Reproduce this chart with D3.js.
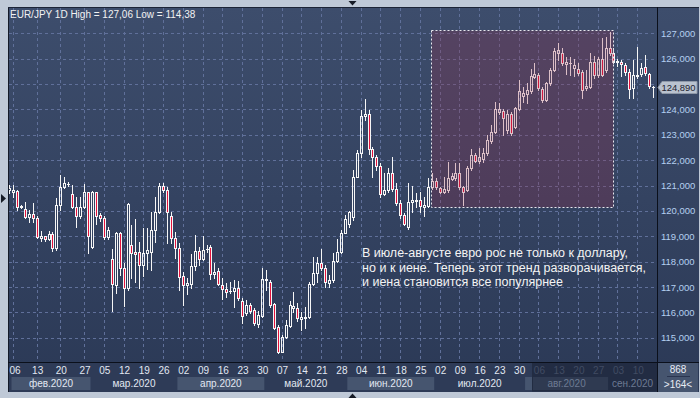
<!DOCTYPE html>
<meta charset="utf-8">
<script src="https://d3js.org/d3.v7.min.js"></script>
<style>
  body { margin: 0; background: #bfc9d7; }
  svg { display: block; font-family: "Liberation Sans", Arial, sans-serif; }
</style>
<svg id="chart" width="700" height="398"></svg>
<script>

// EUR/JPY daily bars, 05.02.2020 - 16.09.2020 (February has short Sunday bars)
var opens = [120.82,120.76,120.77,120.14,120.06,119.75,119.88,119.71,118.92,119.00,118.88,119.09,118.55,120.23,120.93,121.06,120.67,120.14,119.81,120.17,
  120.73,118.59,120.73,119.84,119.71,118.98,118.10,117.08,119.11,117.74,116.95,118.65,118.39,118.39,117.87,118.33,118.39,119.25,119.97,120.98,
  120.82,119.81,118.94,118.52,117.43,117.08,117.12,117.83,118.42,118.09,118.49,118.56,117.51,117.64,117.08,116.91,116.86,116.85,116.96,116.46,
  115.96,116.29,116.09,115.54,115.86,117.30,117.21,116.33,115.41,114.45,115.01,115.46,116.16,116.16,115.72,115.76,115.80,117.10,117.56,117.96,
  117.74,117.14,117.28,118.04,118.39,119.14,119.50,119.75,121.35,122.30,123.74,123.82,122.43,122.14,121.77,120.67,120.82,121.48,120.85,120.30,
  119.84,119.35,120.33,120.38,120.43,120.17,120.19,120.93,121.19,120.90,120.76,120.82,121.25,121.30,121.48,120.95,120.82,121.68,122.20,121.98,
  122.03,122.27,122.77,123.12,123.91,123.95,123.19,123.82,123.32,124.00,124.53,124.61,124.74,125.26,125.36,124.79,124.37,125.03,125.55,126.21,
  126.24,125.79,125.82,125.62,125.58,125.49,124.83,124.90,125.88,125.36,125.97,125.55,126.41,126.21,125.86,125.88,125.75,125.49,124.83,125.30,
  125.40,125.69,125.40,124.90];
var highs = [121.02,121.02,120.82,120.22,120.34,120.03,120.32,119.78,119.21,119.02,119.21,119.18,120.49,121.41,121.32,121.13,121.02,120.56,120.56,121.05,
  120.75,120.78,120.76,119.90,119.80,119.35,118.48,119.18,119.18,117.93,120.32,119.44,119.67,118.79,119.31,119.31,119.97,120.56,121.09,121.11,
  120.95,119.97,119.18,118.72,117.60,117.34,118.29,119.05,118.59,119.01,118.65,118.65,117.93,117.74,117.34,117.14,117.21,117.28,117.24,116.55,
  116.49,116.38,116.16,116.07,117.74,117.67,117.28,116.36,115.50,115.11,115.70,116.46,116.82,116.38,116.03,116.22,117.21,118.17,118.17,118.48,
  117.87,117.47,118.33,118.88,119.25,119.84,119.99,121.61,122.40,123.98,124.40,123.98,122.50,122.20,121.87,121.48,121.68,122.11,121.09,120.43,
  119.93,121.09,121.00,120.70,120.76,120.56,121.28,121.48,121.28,120.96,121.35,121.94,121.50,121.87,121.90,121.00,121.75,122.43,122.30,122.47,
  122.47,122.99,123.39,124.30,124.24,124.00,123.98,123.91,124.08,125.16,124.90,125.03,125.58,125.81,125.45,124.90,125.09,125.62,126.41,126.60,
  126.41,126.08,126.08,125.97,125.81,125.55,125.55,126.21,126.10,126.05,126.80,126.84,127.06,126.41,125.97,125.95,125.84,125.60,125.95,126.47,
  125.81,126.13,125.45,124.92];
var lows = [120.72,120.56,120.03,120.10,119.71,119.57,119.57,118.92,118.83,118.83,118.86,118.43,118.45,120.03,120.89,120.98,120.10,119.38,119.71,120.10,
  118.35,118.55,119.48,119.60,118.90,118.90,116.07,116.75,117.47,116.25,116.88,117.34,117.21,116.97,117.43,117.70,117.67,118.79,119.90,120.76,
  118.75,118.72,118.16,116.88,116.29,116.71,116.97,117.67,117.87,118.06,118.39,117.30,117.34,117.08,116.51,116.62,116.78,116.20,116.49,115.59,
  115.90,115.99,115.50,115.44,115.83,116.88,116.22,115.33,114.38,114.42,114.98,115.44,116.03,115.67,115.30,115.37,115.79,117.08,117.21,117.67,
  116.99,117.01,117.21,118.00,118.33,119.11,119.38,119.64,121.32,122.14,123.58,122.24,121.32,121.61,120.56,120.63,120.75,120.80,120.23,119.71,
  119.44,119.30,119.97,120.17,119.97,119.80,120.14,120.85,120.85,120.70,120.70,120.76,121.20,121.22,120.88,120.23,120.80,121.62,121.94,121.90,
  121.94,122.20,122.69,123.06,123.82,123.00,123.06,122.99,123.25,123.98,124.30,124.24,124.66,125.22,124.77,124.30,124.33,124.96,125.53,125.95,
  125.75,125.40,125.36,125.32,125.36,124.44,124.76,124.83,125.22,125.29,125.32,125.49,126.14,125.82,125.70,125.30,125.36,124.44,124.44,125.23,
  125.30,125.36,124.86,124.50];
var closes = [120.90,120.82,120.14,120.18,119.75,119.88,119.71,118.98,119.00,118.88,119.09,118.55,120.23,120.93,121.09,121.04,120.14,119.81,120.17,120.73,
  119.02,120.73,119.81,119.71,118.98,119.25,117.10,119.11,117.74,116.95,120.27,118.33,118.29,117.87,118.33,118.46,119.25,119.97,120.98,120.82,
  119.97,118.92,118.52,117.41,117.08,117.17,117.83,118.42,118.09,118.46,118.48,117.51,117.60,117.12,116.91,116.82,116.85,116.96,116.55,115.86,
  116.29,116.07,115.57,115.90,117.30,117.29,116.29,115.37,114.45,115.01,115.50,116.29,116.25,115.76,115.80,115.83,117.10,117.56,117.96,117.74,
  117.21,117.28,118.04,118.39,119.14,119.67,119.97,121.35,122.29,123.74,123.82,122.43,122.14,121.77,120.67,120.82,121.48,120.85,120.30,119.84,
  119.48,120.36,120.43,120.43,120.19,120.23,120.93,121.19,120.93,120.76,120.85,121.28,121.36,121.48,120.93,120.76,121.68,122.22,121.98,122.12,
  122.27,122.79,123.12,124.00,124.00,123.65,123.82,123.06,124.04,124.74,124.66,124.76,125.32,125.39,124.83,124.37,125.05,125.55,126.31,126.34,
  125.82,125.88,125.81,125.75,125.45,124.76,124.92,125.88,125.36,125.97,125.36,126.41,126.21,125.88,125.90,125.80,125.49,124.79,125.36,125.36,
  125.62,125.42,124.92,124.89];

// weekly labels (Thursdays) and the bar they sit on
var tickIndex = [1,7,13,19,24,29,34,39,44,49,54,59,64,69,74,79,84,89,94,99,104,109,114,119,124,129,134,139,144,149,154,159];
var tickLabels = ["06","13","20","27","05","12","19","26","02","09","16","23","30","07","14","21","28",
  "04","11","18","25","02","09","16","23","30","06","13","20","27","03","10"];
var monthNames = ["фев.2020","мар.2020","апр.2020","май.2020","июн.2020","июл.2020","авг.2020","сен.2020"];
var monthStart = [0,21,43,65,86,108,131,152];
var priceTicks = [115,116,117,118,119,120,121,122,123,124,125,126,127];

var svg = d3.select("#chart");
var W = 700, H = 398;
var padL = 8, padT = 7, plotRight = 657, plotBottom = 362, frameBottom = 392;

var x = d3.scaleLinear().domain([0, opens.length - 1]).range([9.5, 653.5]);
var y = d3.scaleLinear().domain([115, 127]).range([337.7, 33.3]);

var ru = d3.formatLocale({decimal: ",", thousands: " ", grouping: [3], currency: ["", ""]});
var fmt3 = ru.format(".3f");
var last = closes[closes.length - 1];

// gradient background
var defs = svg.append("defs");
var grad = defs.append("linearGradient").attr("id", "bg").attr("x1", 0).attr("x2", 0).attr("y1", 0).attr("y2", 1);
grad.append("stop").attr("offset", "0%").attr("stop-color", "#3d4d6c");
grad.append("stop").attr("offset", "100%").attr("stop-color", "#2b3956");
defs.append("clipPath").attr("id", "plotClip")
  .append("rect").attr("x", padL + 1).attr("y", padT + 1)
  .attr("width", plotRight - padL - 1).attr("height", plotBottom - padT - 1);

svg.append("rect").attr("x", padL).attr("y", padT).attr("width", W - 1 - padL).attr("height", frameBottom - padT)
  .attr("fill", "url(#bg)");

// x axis area
svg.append("rect").attr("x", padL).attr("y", plotBottom).attr("width", plotRight - padL).attr("height", frameBottom - plotBottom)
  .attr("fill", "#2e3b57");

// month bands
var months = monthNames.map(function(name, k) {
  var s = Math.max(x(monthStart[k] - 0.5), 11.5);
  var e = k < monthNames.length - 1 ? x(monthStart[k + 1] - 0.5) : plotRight;
  return {name: name, s: s, e: e, k: k};
});
svg.append("g").selectAll("rect").data(months.filter(function(m) { return m.k % 2 == 0; }))
  .enter().append("rect")
    .attr("x", function(m) { return m.s; })
    .attr("y", 377)
    .attr("width", function(m) { return m.e - m.s; })
    .attr("height", 13)
    .attr("fill", "#46556f");

// grid
var grid = svg.append("g").attr("stroke", "#60709a").attr("stroke-dasharray", "3,3").attr("stroke-width", 1);
grid.selectAll(".h").data(priceTicks).enter().append("line")
  .attr("x1", padL + 1).attr("x2", plotRight)
  .attr("y1", function(d) { return Math.round(y(d)) + 0.5; })
  .attr("y2", function(d) { return Math.round(y(d)) + 0.5; });
grid.selectAll(".v").data(tickIndex).enter().append("line")
  .attr("y1", padT + 1).attr("y2", plotBottom)
  .attr("x1", function(d) { return Math.floor(x(d)) + 0.5; })
  .attr("x2", function(d) { return Math.floor(x(d)) + 0.5; });

// candles
var bars = opens.map(function(o, i) {
  return {i: i, o: o, h: highs[i], l: lows[i], c: closes[i]};
});
var cg = svg.append("g").attr("clip-path", "url(#plotClip)");
var candle = cg.selectAll("g").data(bars).enter().append("g");
candle.each(function(d) {
  var g = d3.select(this);
  var cx = Math.floor(x(d.i)) + 0.5;
  var yt = Math.round(y(Math.max(d.o, d.c)));
  var yb = Math.round(y(Math.min(d.o, d.c)));
  var yh = Math.round(y(d.h)), yl = Math.round(y(d.l));
  g.append("line").attr("x1", cx).attr("x2", cx).attr("y1", yh).attr("y2", yt)
    .attr("stroke", "#f6f6f6");
  g.append("line").attr("x1", cx).attr("x2", cx).attr("y1", yb + 1).attr("y2", yl + 1)
    .attr("stroke", "#f6f6f6");
  if (yb - yt < 1) {
    g.append("line").attr("x1", cx - 1.5).attr("x2", cx + 1.5).attr("y1", yt + 0.5).attr("y2", yt + 0.5)
      .attr("stroke", "#f6f6f6");
  } else {
    g.append("rect").attr("x", cx - 1).attr("y", yt + 0.5).attr("width", 2).attr("height", yb - yt)
      .attr("fill", d.c < d.o ? "#e3123c" : "none")
      .attr("stroke", "#f6f6f6");
  }
});

// highlighted Jul-Aug zone
var zone = {i0: 106.7, i1: 152.8, p0: 120.15, p1: 127.13};
svg.append("rect")
  .attr("x", Math.round(x(zone.i0)) + 0.5).attr("y", Math.round(y(zone.p1)) + 0.5)
  .attr("width", Math.round(x(zone.i1) - x(zone.i0)))
  .attr("height", Math.round(y(zone.p0) - y(zone.p1)))
  .attr("fill", "rgba(150,45,75,0.27)")
  .attr("stroke", "#e8e8ee").attr("stroke-dasharray", "2,2");

// comment
var note = ["В июле-августе евро рос не только к доллару,",
  "но и к иене. Теперь этот тренд разворачивается,",
  "и иена становится все популярнее"];
var noteWidth = [266, 284, 201];
svg.append("g").selectAll("text").data(note).enter().append("text")
  .attr("x", 362)
  .attr("y", function(d, k) { return 257 + k * 14.5; })
  .attr("textLength", function(d, k) { return noteWidth[k]; })
  .attr("lengthAdjust", "spacing")
  .attr("fill", "#f4f4f4")
  .style("font-size", "12.5px")
  .text(function(d) { return d; });

// title
svg.append("text").attr("x", 10).attr("y", 17.5)
  .attr("fill", "#f2f2f2").style("font-size", "10px")
  .text("EUR/JPY 1D High = " + ru.format(".2f")(d3.max(highs)) + " Low = " + ru.format(".2f")(d3.min(lows)));

// price axis (the level under the last-price marker is hidden, as in the terminal)
var yAxis = svg.append("g").attr("transform", "translate(" + (plotRight + 1) + ",0)")
  .call(d3.axisRight(y).tickValues(priceTicks.filter(function(p) { return Math.abs(y(p) - y(last)) > 9; }))
    .tickFormat(fmt3).tickSize(0).tickPadding(3));
yAxis.select(".domain").remove();
yAxis.selectAll("text").attr("fill", "#b4cff0").style("font-size", "9.5px")
  .style("font-family", "Liberation Sans, Arial, sans-serif");

// day axis
var xAxis = svg.append("g").attr("transform", "translate(0," + (plotBottom + 4) + ")")
  .call(d3.axisBottom(x).tickValues(tickIndex).tickFormat(function(d, k) { return tickLabels[k]; }).tickSize(0).tickPadding(0));
xAxis.select(".domain").remove();
xAxis.selectAll("text")
  .attr("fill", function(d) { return d >= 134 ? "#66748e" : "#e2e8f2"; })
  .attr("dy", "0.75em")
  .style("font-size", "10px")
  .style("font-family", "Liberation Sans, Arial, sans-serif")
  .attr("x", function(d) { return d == tickIndex[0] ? 1 : 0; });

// dimmed tail of the time axis
svg.append("rect").attr("x", 532.5).attr("y", plotBottom + 0.5).attr("width", plotRight - 533).attr("height", frameBottom - plotBottom - 1.5)
  .attr("fill", "rgba(20,27,44,0.45)").attr("stroke", "#222c42");

svg.append("g").selectAll("text").data(months).enter().append("text")
  .attr("x", function(m) { return (m.s + m.e) / 2; })
  .attr("y", 387)
  .attr("text-anchor", "middle")
  .attr("fill", function(m) { return m.k >= 6 ? "#6d7a93" : "#e2e8f2"; })
  .style("font-size", "10px")
  .text(function(m) { return m.name; });

// frame lines
svg.append("line").attr("x1", padL + 0.5).attr("x2", padL + 0.5).attr("y1", padT).attr("y2", frameBottom).attr("stroke", "#141a28");
svg.append("line").attr("x1", padL).attr("x2", W - 1).attr("y1", padT + 0.5).attr("y2", padT + 0.5).attr("stroke", "#1c2436");
svg.append("line").attr("x1", plotRight + 0.5).attr("x2", plotRight + 0.5).attr("y1", padT).attr("y2", frameBottom).attr("stroke", "#0b101b");
svg.append("line").attr("x1", padL).attr("x2", W - 1).attr("y1", plotBottom + 0.5).attr("y2", plotBottom + 0.5).attr("stroke", "#0b101b");

// bars counter box
svg.append("rect").attr("x", plotRight + 1).attr("y", plotBottom + 1).attr("width", W - plotRight - 3).attr("height", frameBottom - plotBottom - 1)
  .attr("fill", "#46556f");
svg.append("line").attr("x1", plotRight + 10).attr("x2", W - 10).attr("y1", 376.5).attr("y2", 376.5).attr("stroke", "#2a3550");
svg.append("text").attr("x", 678).attr("y", 373).attr("text-anchor", "middle").attr("fill", "#e8ecf4")
  .style("font-size", "10px").text("868");
svg.append("text").attr("x", 678).attr("y", 387.5).attr("text-anchor", "middle").attr("fill", "#e8ecf4")
  .style("font-size", "10px").text(">" + opens.length + "<");

// last price marker
var ly = Math.round(y(last));
svg.append("path")
  .attr("d", "M" + (plotRight + 1) + "," + (ly + 0.5) + "L" + (plotRight + 5) + "," + (ly - 5.5) +
    "H" + (W - 3) + "V" + (ly + 6.5) + "H" + (plotRight + 5) + "Z")
  .attr("fill", "#b9c2cf").attr("stroke", "#8e98a8");
svg.append("text").attr("x", plotRight + 4.5).attr("y", ly + 4).attr("fill", "#1d2230")
  .attr("textLength", 34).attr("lengthAdjust", "spacingAndGlyphs")
  .style("font-size", "9.5px").text(fmt3(last));

// window markers
svg.append("path").attr("d", "M1,194L6,198.5L1,203Z").attr("fill", "#161b26");
svg.append("path").attr("d", "M348.5,1H356.5L352.5,5.5Z").attr("fill", "#161b26");
svg.append("path").attr("d", "M348.5,398H356.5L352.5,393.5Z").attr("fill", "#161b26");

</script>
